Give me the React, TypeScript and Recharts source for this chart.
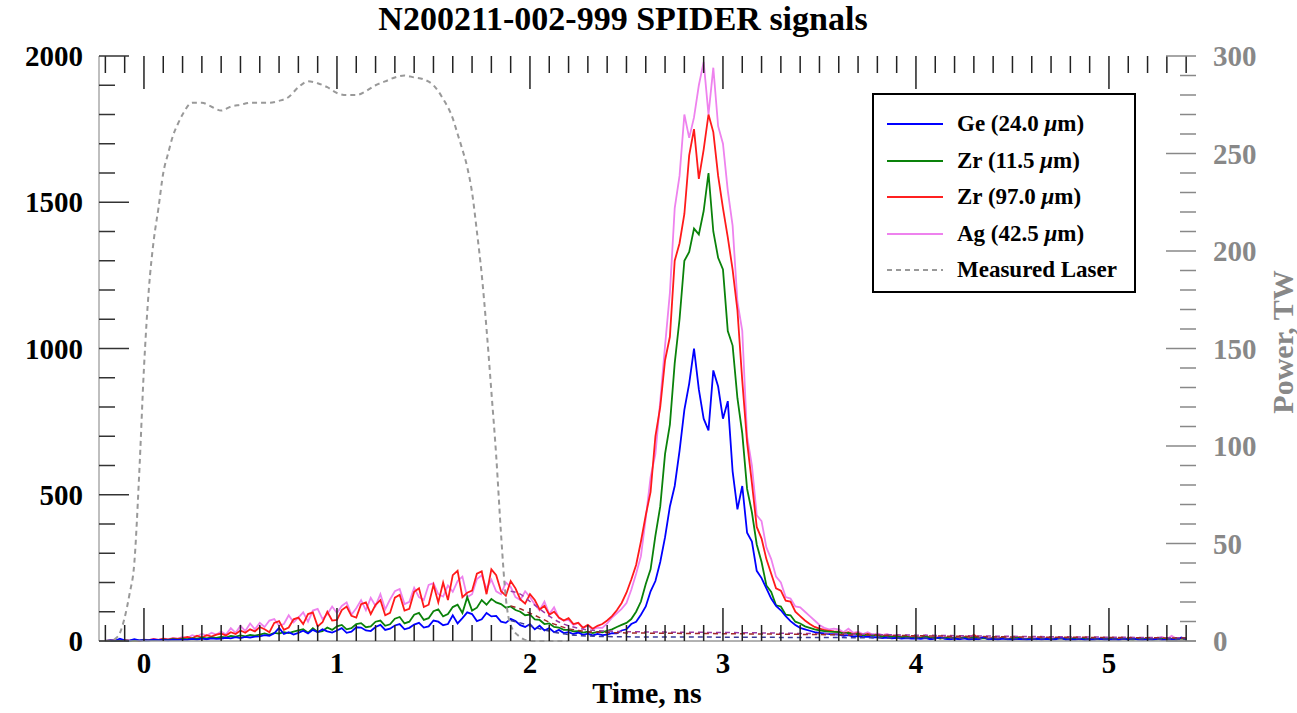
import { LineChart, Line, XAxis, YAxis, Legend } from 'recharts'

// sampling grid of the detector traces, ns
const T_START = -0.2
const T_STEP = 0.025

const geCounts = [
  0, 2, 1, 8, 2, 1, 6, 2,
  3, 2, 5, 3, 4, 2, 5, 4,
  5, 4, 7, 5, 8, 6, 9, 7,
  8, 11, 9, 13, 10, 14, 12, 15,
  16, 20, 18, 26, 45, 24, 30, 22,
  28, 35, 26, 38, 30, 40, 33, 29,
  36, 44, 28, 32, 47, 46, 36, 34,
  48, 55, 38, 42, 53, 58, 40, 45,
  56, 62, 46, 50, 70, 66, 54, 58,
  88, 60, 78, 98, 92, 68, 74, 96,
  84, 86, 66, 62, 76, 68, 54, 48,
  58, 40, 52, 36, 44, 30, 38, 27,
  30, 24, 29, 21, 25, 19, 24, 20,
  22, 27, 26, 36, 40, 58, 66, 90,
  118, 170, 205, 270, 355, 460, 530, 650,
  790, 880, 1000, 860, 760, 720, 925, 870,
  760, 820, 580, 450, 530, 370, 340, 240,
  215, 180, 145, 120, 105, 85, 68, 55,
  45, 40, 35, 30, 28, 26, 24, 23,
  22, 18, 20, 15, 17, 13, 15, 12,
  13, 10, 12, 9, 11, 8, 10, 8,
  9, 7, 10, 6, 8, 12, 7, 6,
  8, 6, 9, 5, 7, 6, 14, 6,
  7, 5, 8, 6, 5, 7, 6, 5,
  6, 8, 5, 7, 5, 6, 12, 5,
  6, 5, 7, 4, 6, 5, 8, 5,
  5, 6, 4, 7, 5, 10, 5, 4,
  6, 5, 7, 4, 5, 6, 4, 12,
  6,
]

const zr11Counts = [
  0, 1, 0, 2, 1, 0, 2, 1,
  3, 2, 4, 3, 5, 4, 6, 5,
  7, 6, 9, 8, 11, 9, 12, 11,
  14, 12, 17, 15, 19, 16, 21, 18,
  22, 26, 21, 28, 25, 30, 27, 32,
  36, 40, 28, 44, 31, 34, 46, 38,
  50, 55, 40, 44, 58, 61, 47, 50,
  66, 70, 52, 57, 76, 82, 60, 66,
  90, 96, 72, 78, 102, 108, 84, 92,
  116, 124, 96, 150, 104, 114, 140, 124,
  144, 132, 126, 114, 118, 106, 100, 88,
  90, 74, 72, 58, 60, 48, 46, 38,
  38, 33, 34, 29, 32, 27, 31, 30,
  35, 40, 48, 55, 62, 75, 100, 135,
  195, 245, 360, 460, 640, 740, 950, 1100,
  1300, 1330, 1410, 1390, 1470, 1600, 1400, 1310,
  1270, 1060, 1010, 830, 710, 520, 440, 330,
  270, 190, 168, 122, 118, 90, 88, 66,
  60, 50, 45, 40, 36, 34, 32, 31,
  30, 25, 28, 22, 24, 19, 22, 18,
  20, 15, 18, 14, 16, 12, 15, 11,
  13, 10, 16, 9, 12, 8, 11, 9,
  10, 8, 12, 7, 14, 8, 10, 7,
  9, 7, 10, 6, 8, 12, 7, 6,
  8, 6, 9, 7, 6, 8, 10, 6,
  7, 9, 6, 8, 5, 7, 6, 9,
  6, 8, 5, 7, 6, 5, 8, 6,
  7, 5, 6, 8, 5, 7, 6, 9,
  6,
]

const zr97Counts = [
  0, 2, 1, 0, 3, 1, 2, 0,
  4, 3, 6, 4, 8, 5, 9, 7,
  10, 14, 9, 18, 12, 20, 15, 22,
  25, 19, 30, 24, 36, 28, 40, 33,
  48, 40, 30, 62, 68, 38, 46, 74,
  80, 58, 92, 98, 50, 64, 100, 70,
  72, 106, 118, 86, 80, 126, 132, 92,
  124, 140, 88, 96, 148, 158, 104, 110,
  168, 180, 116, 124, 192, 132, 200, 140,
  225, 240, 150, 165, 172, 230, 238, 160,
  245, 225, 170, 155, 205, 180, 142, 128,
  160, 140, 108, 120, 90, 100, 80, 70,
  78, 58, 62, 45, 55, 42, 52, 58,
  70, 85, 105, 130, 165, 210, 260, 340,
  430, 510, 700, 800, 960, 1040, 1300, 1360,
  1460, 1660, 1750, 1580, 1680, 1800, 1740, 1590,
  1480, 1380, 1270, 1130, 890, 680, 540, 390,
  350, 280, 230, 180, 172, 138, 135, 100,
  85, 70, 58, 48, 42, 38, 35, 33,
  32, 26, 30, 24, 27, 20, 24, 19,
  21, 16, 19, 15, 18, 13, 16, 12,
  14, 11, 18, 10, 13, 9, 12, 10,
  11, 9, 13, 8, 22, 9, 11, 8,
  10, 8, 12, 7, 9, 14, 8, 7,
  9, 7, 10, 8, 7, 9, 12, 6,
  8, 10, 7, 9, 6, 8, 7, 10,
  7, 9, 6, 8, 7, 6, 9, 7,
  8, 6, 7, 9, 6, 8, 7, 10,
  7,
]

const agCounts = [
  0, 1, 3, 1, 2, 0, 2, 1,
  5, 3, 7, 4, 9, 6, 10, 8,
  14, 10, 20, 15, 25, 18, 28, 22,
  32, 22, 44, 28, 52, 34, 60, 40,
  62, 48, 70, 75, 52, 58, 88, 64,
  80, 98, 66, 104, 110, 75, 92, 118,
  96, 120, 132, 90, 112, 140, 105, 148,
  120, 160, 108, 142, 170, 178, 126, 134,
  182, 150, 140, 192, 198, 160, 152, 190,
  168, 205, 220, 150, 160, 212, 225, 178,
  210, 170, 160, 200, 185, 150, 140, 170,
  150, 125, 105, 135, 92, 115, 78, 70,
  72, 55, 62, 46, 52, 40, 46, 45,
  60, 80, 95, 110, 130, 175, 230, 290,
  420, 560, 640, 820, 1010, 1190, 1480, 1590,
  1800, 1720, 1790, 1900, 1980, 1800, 1960, 1760,
  1700, 1540, 1420, 1160, 1060, 700, 600, 430,
  410, 320, 280, 220, 200, 150, 145, 118,
  115, 100, 85, 70, 55, 45, 40, 42,
  40, 30, 42, 28, 32, 24, 30, 22,
  26, 20, 24, 18, 21, 16, 19, 14,
  16, 13, 20, 12, 15, 11, 14, 12,
  13, 11, 15, 10, 12, 10, 13, 9,
  12, 9, 13, 8, 11, 10, 9, 8,
  10, 9, 12, 8, 9, 10, 11, 8,
  9, 10, 8, 11, 7, 9, 8, 10,
  8, 10, 7, 9, 8, 7, 10, 8,
  9, 7, 8, 14, 7, 18, 8, 10,
  8,
]

// measured laser power, TW (right axis)
const laserTimes = [
  -0.2, -0.175, -0.15, -0.125, -0.1, -0.075, -0.05, -0.025, 0, 0.025, 0.05, 0.075, 0.1, 0.125, 0.15, 0.175, 0.2,
  0.25, 0.3, 0.35, 0.4, 0.45, 0.5, 0.55, 0.6, 0.65, 0.7, 0.75, 0.8, 0.85, 0.9, 0.95, 1.0, 1.05, 1.1, 1.15, 1.2,
  1.25, 1.3, 1.35, 1.4, 1.45, 1.5, 1.55, 1.6,
  1.625, 1.65, 1.675, 1.7, 1.725, 1.75, 1.775, 1.8, 1.825, 1.85, 1.875, 1.9,
  1.95, 2.0, 2.2,
]
const laserPower = [
  0, 0, 1, 4, 12, 24, 40, 85, 140, 180, 205, 222, 240, 250, 259, 265, 270,
  276, 276, 274, 272, 274, 275, 276, 276, 276, 277, 279, 284, 287, 286, 284, 281, 280, 280, 282, 285,
  287, 289, 290, 289, 288, 285, 278, 268,
  260, 252, 243, 230, 210, 188, 160, 128, 95, 55, 22, 8,
  2, 0, 0,
]

// dashed decay curves near the baseline (not in the legend)
const fitTimes = [1.9, 1.95, 2.0, 2.05, 2.1, 2.15, 2.2, 2.25, 2.3, 2.4, 2.6, 2.8, 3.0, 3.5, 4.0, 4.5, 5.0, 5.4]
const fitAg = [170, 160, 135, 110, 85, 65, 52, 44, 38, 34, 31, 30, 29, 25, 20, 16, 13, 11]
const fitZr = [120, 110, 95, 80, 64, 52, 42, 36, 32, 29, 27, 26, 25, 22, 18, 14, 12, 10]
const fitGe = [70, 62, 52, 42, 34, 27, 22, 19, 17, 15, 14, 14, 13, 12, 10, 8, 7, 6]

const xLabels = [0, 1, 2, 3, 4, 5]
const leftLabels = [0, 500, 1000, 1500, 2000]
const rightLabels = [0, 50, 100, 150, 200, 250, 300]

const legendItems = [
  { name: 'Ge (24.0 ', unit: true, color: '#0000ff', dash: '' },
  { name: 'Zr (11.5 ', unit: true, color: '#0a820a', dash: '' },
  { name: 'Zr (97.0 ', unit: true, color: '#ff2020', dash: '' },
  { name: 'Ag (42.5 ', unit: true, color: '#ee82ee', dash: '' },
  { name: 'Measured Laser', unit: false, color: '#999999', dash: '5 4' },
]

const times = geCounts.map((_, i) => Math.round((T_START + i * T_STEP) * 1000) / 1000)
const signalRows = times.map((t, i) => ({
  t,
  ge: geCounts[i],
  zr11: zr11Counts[i],
  zr97: zr97Counts[i],
  ag: agCounts[i],
}))
const laserRows = laserTimes.map((t, i) => ({ t, power: laserPower[i] }))
const fitRows = fitTimes.map((t, i) => ({ t, ag: fitAg[i], zr: fitZr[i], ge: fitGe[i] }))

const xTicks: number[] = []
for (let k = -2; k <= 54; k++) xTicks.push(Math.round(k) / 10)
const leftTicks: number[] = []
for (let v = 0; v <= 2000; v += 100) leftTicks.push(v)
const rightTicks: number[] = []
for (let v = 0; v <= 300; v += 10) rightTicks.push(v)

const FONT = '"Liberation Serif", "Times New Roman", serif'
const TICK_FONT = 29

function BottomTick(props: any) {
  const { x, y, payload } = props
  const v = payload.value
  const major = xLabels.includes(v)
  return (
    <g>
      <line x1={x} x2={x} y1={y} y2={y - (major ? 33 : 16)} stroke="#222" strokeWidth={1.5} />
      {major && (
        <text x={x} y={y + 32} textAnchor="middle" fontSize={TICK_FONT} fontWeight="bold" fill="#000" fontFamily={FONT}>
          {v}
        </text>
      )}
    </g>
  )
}

function TopTick(props: any) {
  const { x, y, payload } = props
  const major = xLabels.includes(payload.value)
  return <line x1={x} x2={x} y1={y} y2={y + (major ? 33 : 17)} stroke="#222" strokeWidth={1.5} />
}

function LeftTick(props: any) {
  const { x, y, payload } = props
  const v = payload.value
  const major = leftLabels.includes(v)
  return (
    <g>
      <line x1={x} x2={x + (major ? 30 : 16)} y1={y} y2={y} stroke="#333" strokeWidth={1.5} />
      {major && (
        <text x={x - 16} y={y} textAnchor="end" dominantBaseline="central" fontSize={TICK_FONT} fontWeight="bold" fill="#000" fontFamily={FONT}>
          {v}
        </text>
      )}
    </g>
  )
}

function RightTick(props: any) {
  const { x, y, payload } = props
  const v = payload.value
  const major = rightLabels.includes(v)
  return (
    <g>
      <line x1={x} x2={x - (major ? 30 : 16)} y1={y} y2={y} stroke="#888" strokeWidth={1.5} />
      {major && (
        <text x={x + 17} y={y} textAnchor="start" dominantBaseline="central" fontSize={TICK_FONT} fontWeight="bold" fill="#888" fontFamily={FONT}>
          {v}
        </text>
      )}
    </g>
  )
}

function LegendBox() {
  return (
    <div
      style={{
        border: '2px solid #000',
        background: '#fff',
        width: 260,
        height: 185,
        boxSizing: 'content-box',
        paddingTop: 11,
        fontFamily: FONT,
      }}
    >
      {legendItems.map((item) => (
        <div key={item.name} style={{ display: 'flex', alignItems: 'center', height: 36.5 }}>
          <svg width={56} height={6} style={{ marginLeft: 13, marginRight: 14 }}>
            <line x1={0} x2={56} y1={3} y2={3} stroke={item.color} strokeWidth={2} strokeDasharray={item.dash} />
          </svg>
          <span style={{ fontSize: 23, fontWeight: 'bold', color: '#000', whiteSpace: 'nowrap' }}>
            {item.name}
            {item.unit && (
              <>
                <i>μ</i>m)
              </>
            )}
          </span>
        </div>
      ))}
    </div>
  )
}

const lineProps = { dot: false, isAnimationActive: false, strokeWidth: 1.8, type: 'linear' as const }

export default function App() {
  return (
    <div style={{ position: 'absolute', left: 0, top: 0, width: 1297, height: 713, background: '#fff', fontFamily: FONT }}>
      <div
        style={{
          position: 'absolute',
          left: 623,
          top: 19,
          transform: 'translate(-50%, -50%)',
          fontSize: 34,
          fontWeight: 'bold',
          whiteSpace: 'nowrap',
          lineHeight: 1,
        }}
      >
        N200211-002-999 SPIDER signals
      </div>
      <LineChart width={1297} height={713} margin={{ top: 26, right: 0, bottom: 0, left: 0 }}>
        <XAxis
          dataKey="t"
          type="number"
          domain={[-0.233, 5.451]}
          allowDataOverflow
          ticks={xTicks}
          interval={0}
          tick={<BottomTick />}
          tickLine={false}
          tickSize={0}
          tickMargin={0}
          axisLine={{ stroke: '#999', strokeWidth: 1.5 }}
          height={72}
        />
        <XAxis
          xAxisId="top"
          orientation="top"
          dataKey="t"
          type="number"
          domain={[-0.233, 5.451]}
          allowDataOverflow
          ticks={xTicks}
          interval={0}
          tick={<TopTick />}
          tickLine={false}
          tickSize={0}
          tickMargin={0}
          axisLine={false}
          height={30}
        />
        <YAxis
          yAxisId="left"
          type="number"
          domain={[0, 2000]}
          ticks={leftTicks}
          interval={0}
          tick={<LeftTick />}
          tickLine={false}
          tickSize={0}
          tickMargin={0}
          axisLine={{ stroke: '#aaa', strokeWidth: 1.5 }}
          width={99}
        />
        <YAxis
          yAxisId="right"
          orientation="right"
          type="number"
          domain={[0, 300]}
          ticks={rightTicks}
          interval={0}
          tick={<RightTick />}
          tickLine={false}
          tickSize={0}
          tickMargin={0}
          axisLine={false}
          width={101}
        />
        <Line data={signalRows} yAxisId="left" dataKey="ag" stroke="#ee82ee" {...lineProps} />
        <Line data={signalRows} yAxisId="left" dataKey="zr97" stroke="#ff1a1a" {...lineProps} />
        <Line data={signalRows} yAxisId="left" dataKey="zr11" stroke="#0a820a" {...lineProps} />
        <Line data={signalRows} yAxisId="left" dataKey="ge" stroke="#0000ff" {...lineProps} />
        <Line data={fitRows} yAxisId="left" dataKey="ag" stroke="#9a3aa8" strokeWidth={1.5} strokeDasharray="5 4" dot={false} type="monotone" legendType="none" isAnimationActive={false} />
        <Line data={fitRows} yAxisId="left" dataKey="zr" stroke="#a02828" strokeWidth={1.5} strokeDasharray="5 4" dot={false} type="monotone" legendType="none" isAnimationActive={false} />
        <Line data={fitRows} yAxisId="left" dataKey="ge" stroke="#3a3a9a" strokeWidth={1.5} strokeDasharray="5 4" dot={false} type="monotone" legendType="none" isAnimationActive={false} />
        <Line data={laserRows} yAxisId="right" dataKey="power" stroke="#999" strokeWidth={2} strokeDasharray="5 4" dot={false} type="monotone" isAnimationActive={false} />
        <Legend
          layout="vertical"
          align="center"
          verticalAlign="middle"
          content={<LegendBox />}
          wrapperStyle={{ position: 'absolute', left: 872, top: 93, width: 264, height: 200 }}
        />
      </LineChart>
      <div
        style={{
          position: 'absolute',
          left: 647,
          top: 693,
          transform: 'translate(-50%, -50%)',
          fontSize: 30,
          fontWeight: 'bold',
          whiteSpace: 'nowrap',
          lineHeight: 1,
        }}
      >
        Time, ns
      </div>
      <div
        style={{
          position: 'absolute',
          left: 1283,
          top: 342,
          transform: 'translate(-50%, -50%) rotate(-90deg)',
          fontSize: 30,
          fontWeight: 'bold',
          color: '#888',
          whiteSpace: 'nowrap',
          lineHeight: 1,
        }}
      >
        Power, TW
      </div>
    </div>
  )
}
